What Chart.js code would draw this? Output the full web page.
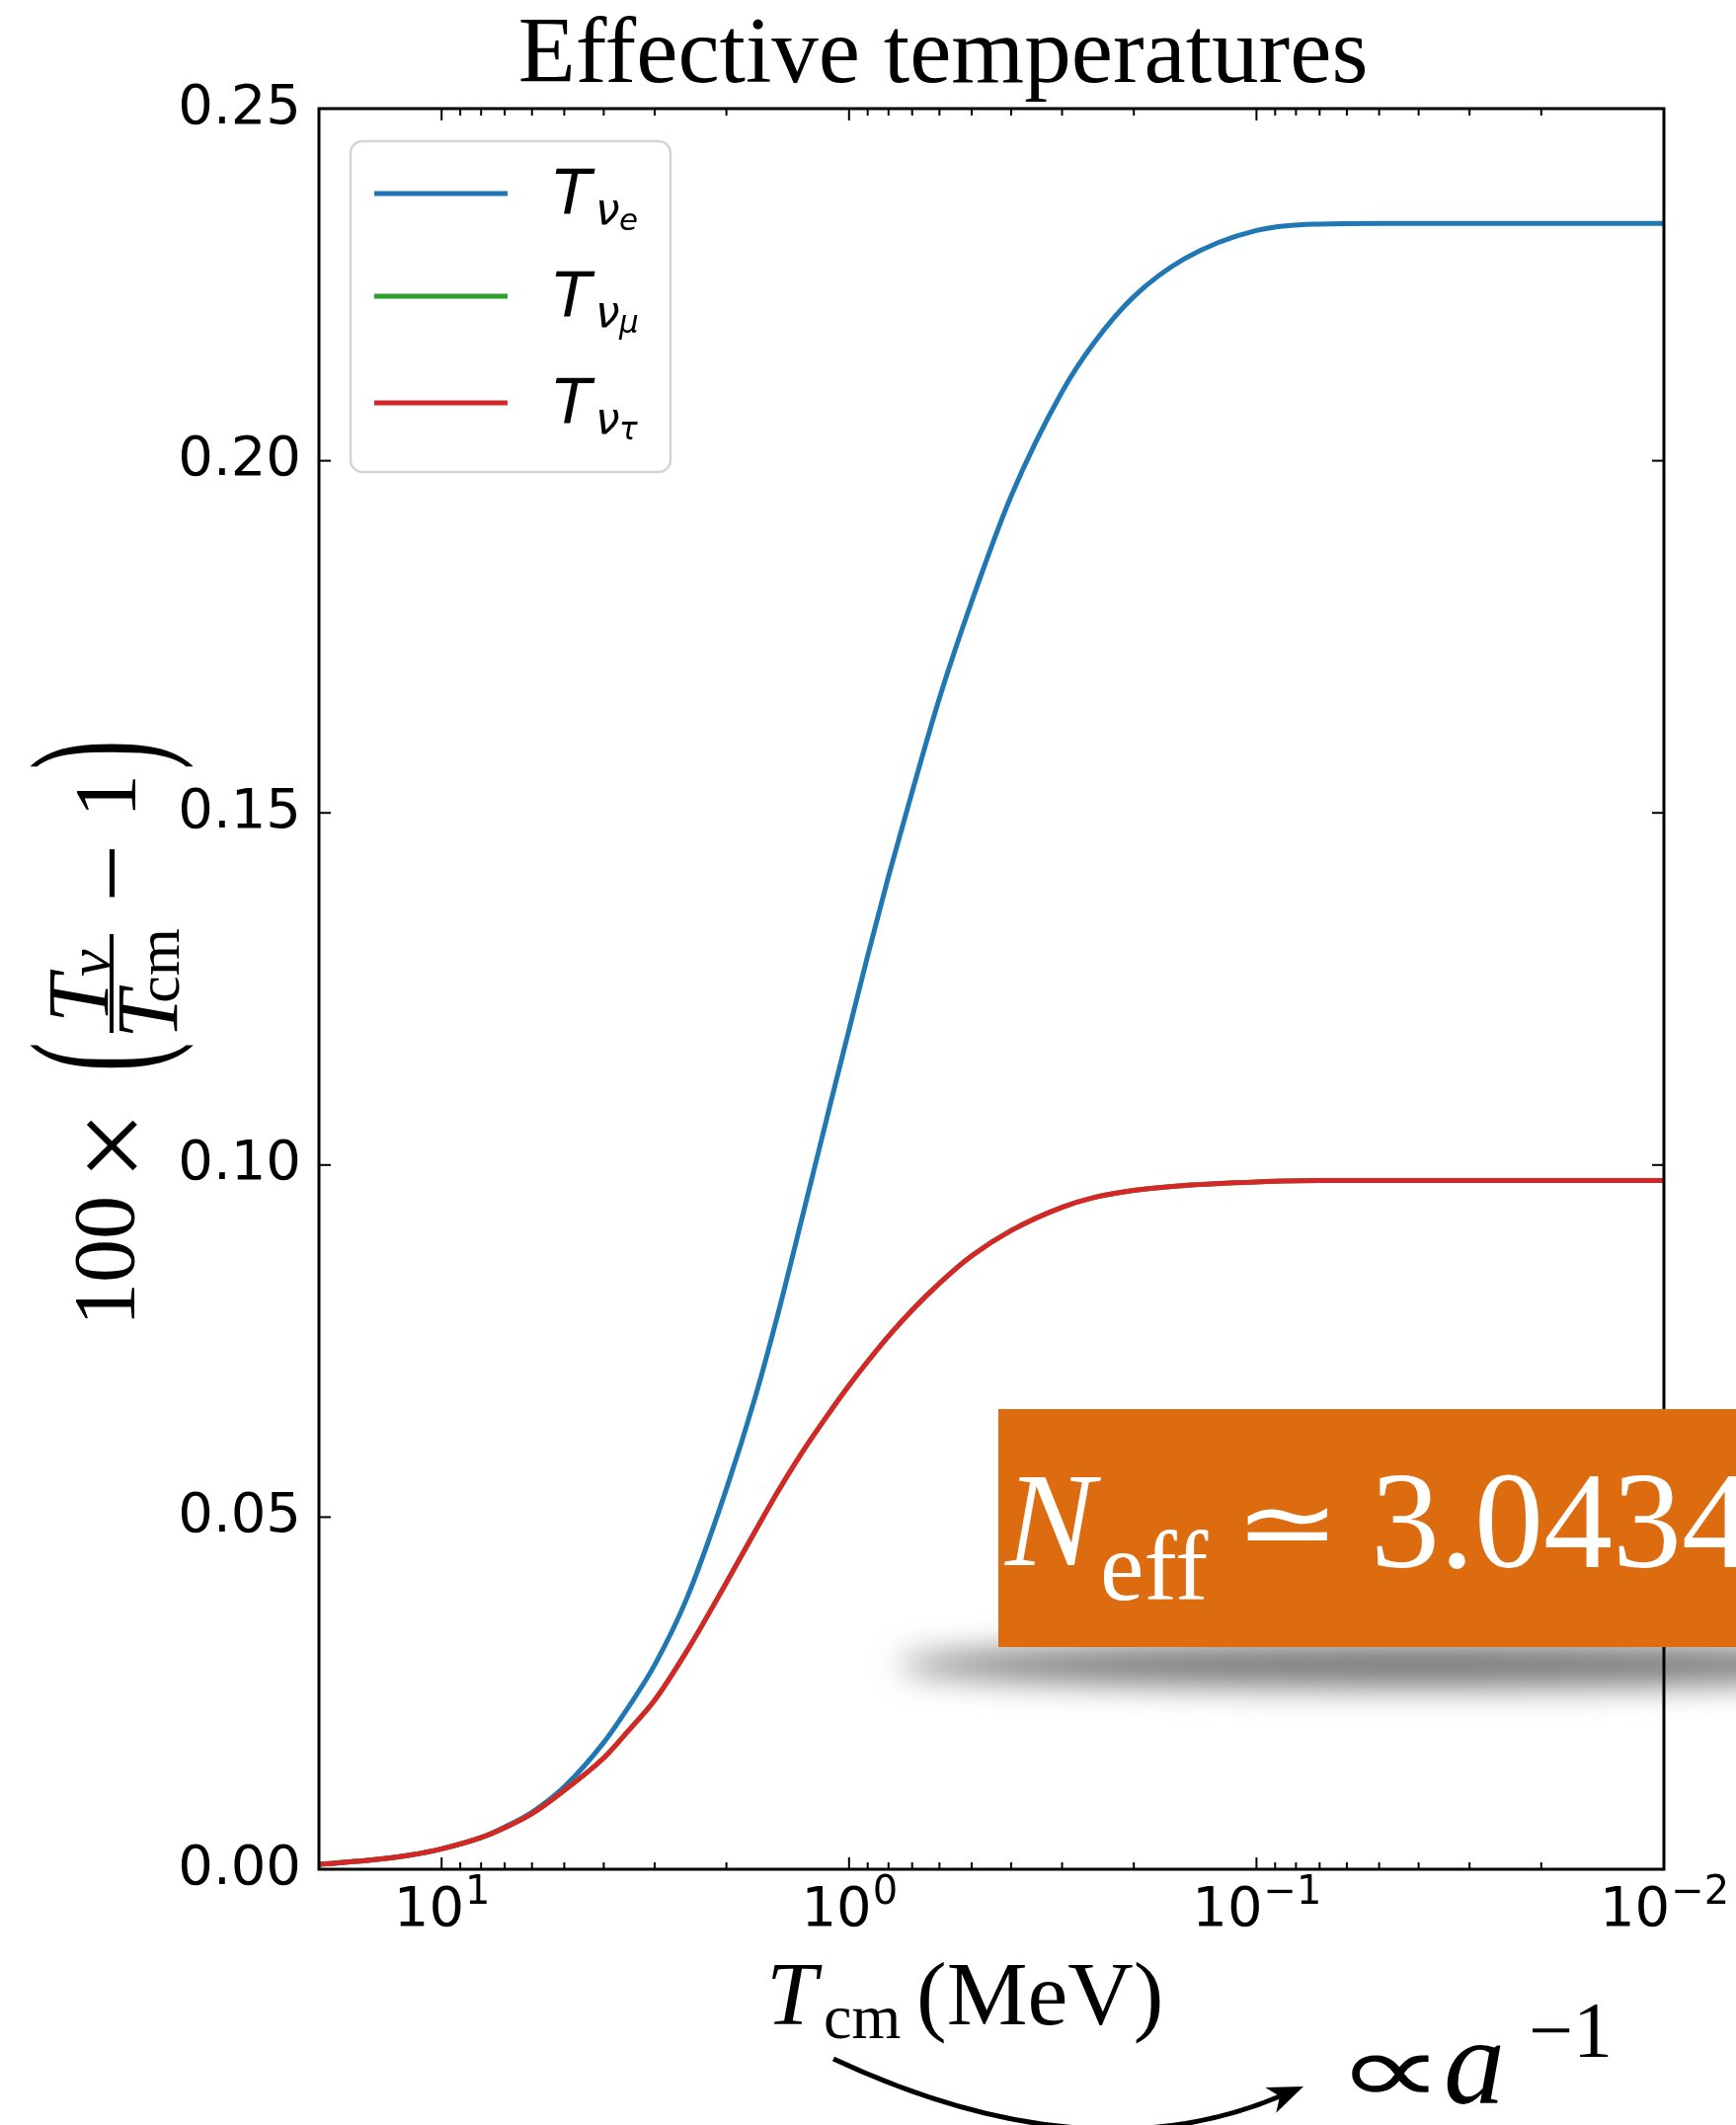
<!DOCTYPE html>
<html>
<head>
<meta charset="utf-8">
<script src="https://cdn.jsdelivr.net/npm/chart.js@4.4.0/dist/chart.umd.min.js"></script>
<style>
  html, body { margin: 0; padding: 0; background: #fff; }
</style>
</head>
<body>
<canvas id="chartTemp" width="1758" height="2152"></canvas>
<script>
// T_cm in MeV (x axis, log, reversed)
const tcm = [20, 15, 12, 10, 8, 7, 6, 5, 4, 3.5, 3, 2.5, 2, 1.7, 1.5, 1.3, 1.1, 1.0, 0.9, 0.8,
  0.7, 0.6, 0.5, 0.4, 0.3, 0.25, 0.2, 0.15, 0.1, 0.07, 0.05, 0.03, 0.02, 0.01];
// 100 x (T_nu / T_cm - 1)
const nuE = [0.0007, 0.0013, 0.0020, 0.0029, 0.0045, 0.0060, 0.0081, 0.0117, 0.0180, 0.0228,
  0.0290, 0.0385, 0.0540, 0.0670, 0.0785, 0.0928, 0.1097, 0.1192, 0.1297, 0.1410,
  0.1530, 0.1663, 0.1800, 0.1950, 0.2098, 0.2168, 0.2233, 0.2287, 0.2327, 0.2336,
  0.2337, 0.2337, 0.2337, 0.2337];
const nuMu = [0.0007, 0.0013, 0.0020, 0.0029, 0.0045, 0.0059, 0.0079, 0.0112, 0.0158, 0.0195,
  0.0240, 0.0310, 0.0407, 0.0480, 0.0535, 0.0593, 0.0654, 0.0687, 0.0721, 0.0757,
  0.0794, 0.0832, 0.0871, 0.0907, 0.0940, 0.0954, 0.0964, 0.0971, 0.0976, 0.0978,
  0.0978, 0.0978, 0.0978, 0.0978];
const nuTau = [0.0007, 0.0013, 0.0020, 0.0029, 0.0045, 0.0059, 0.0079, 0.0112, 0.0158, 0.0195,
  0.0240, 0.0310, 0.0407, 0.0480, 0.0535, 0.0593, 0.0654, 0.0687, 0.0721, 0.0757,
  0.0794, 0.0832, 0.0871, 0.0907, 0.0940, 0.0954, 0.0964, 0.0971, 0.0976, 0.0978,
  0.0978, 0.0978, 0.0978, 0.0978];

const yTicks = [0, 0.05, 0.10, 0.15, 0.20, 0.25];
const xMajor = [10, 1, 0.1, 0.01];
const xExp = ['1', '0', '\u22121', '\u22122'];
const xMinor = [9, 8, 7, 6, 5, 4, 3, 2, 0.9, 0.8, 0.7, 0.6, 0.5, 0.4, 0.3, 0.2,
  0.09, 0.08, 0.07, 0.06, 0.05, 0.04, 0.03, 0.02];
const legendSub = ['e', '\u03bc', '\u03c4'];

const colors = ['#1f77b4', '#2ca02c', '#d62728'];

function pts(arr) {
  return tcm.map((t, i) => ({ x: t, y: arr[i] }));
}

function line(ctx, x1, y1, x2, y2) {
  ctx.beginPath();
  ctx.moveTo(x1, y1);
  ctx.lineTo(x2, y2);
  ctx.stroke();
}

// rotated (bottom-to-top) text, centred on its ink box at (cx, cy)
function rotText(ctx, str, font, cx, cy, inkHeight) {
  ctx.save();
  ctx.font = font;
  ctx.translate(cx, cy);
  ctx.rotate(-Math.PI / 2);
  const m = ctx.measureText(str);
  if (inkHeight) {
    const h = m.actualBoundingBoxAscent + m.actualBoundingBoxDescent;
    ctx.scale(1, inkHeight / h);
  }
  ctx.textAlign = 'left';
  ctx.textBaseline = 'alphabetic';
  const x0 = -(m.actualBoundingBoxRight - m.actualBoundingBoxLeft) / 2;
  const y0 = (m.actualBoundingBoxAscent - m.actualBoundingBoxDescent) / 2;
  ctx.fillText(str, x0, y0);
  ctx.restore();
}

// upright text with its ink box starting at x and stretched to an ink width
function wideText(ctx, str, font, x, baseline, inkWidth) {
  ctx.save();
  ctx.font = font;
  const m = ctx.measureText(str);
  const w = m.actualBoundingBoxRight + m.actualBoundingBoxLeft;
  ctx.translate(x, baseline);
  ctx.scale(inkWidth / w, 1);
  ctx.textAlign = 'left';
  ctx.fillText(str, m.actualBoundingBoxLeft, 0);
  ctx.restore();
}

const overlay = {
  id: 'overlay',
  beforeDraw(chart) {
    const ctx = chart.ctx;
    ctx.save();
    ctx.fillStyle = '#fff';
    ctx.fillRect(0, 0, chart.width, chart.height);
    // soft shadow under the N_eff badge
    ctx.filter = 'blur(16px)';
    ctx.fillStyle = 'rgba(90,90,90,0.85)';
    ctx.beginPath();
    ctx.ellipse(1440, 1686, 530, 22, 0, 0, Math.PI * 2);
    ctx.fill();
    ctx.restore();
  },
  afterDatasetsDraw(chart) {
    const ctx = chart.ctx;
    const { left, right, top, bottom } = chart.chartArea;
    const xs = chart.scales.x, ys = chart.scales.y;
    ctx.save();
    ctx.strokeStyle = '#000';
    ctx.lineWidth = 2;
    xMajor.forEach(v => {
      const px = xs.getPixelForValue(v);
      line(ctx, px, bottom, px, bottom - 12);
      line(ctx, px, top, px, top + 12);
    });
    xMinor.forEach(v => {
      const px = xs.getPixelForValue(v);
      line(ctx, px, bottom, px, bottom - 7);
      line(ctx, px, top, px, top + 7);
    });
    yTicks.forEach(v => {
      const py = ys.getPixelForValue(v);
      line(ctx, left, py, left + 12, py);
      line(ctx, right, py, right - 12, py);
    });
    ctx.lineWidth = 3;
    ctx.strokeRect(left, top, right - left, bottom - top);

    // x tick labels 10^k
    ctx.fillStyle = '#000';
    ctx.textAlign = 'left';
    ctx.textBaseline = 'alphabetic';
    xMajor.forEach((v, i) => {
      const px = xs.getPixelForValue(v);
      ctx.font = '56px "DejaVu Sans"';
      const wb = ctx.measureText('10').width;
      ctx.font = '40px "DejaVu Sans"';
      const we = ctx.measureText(xExp[i]).width;
      const x0 = px - (wb + we) / 2;
      ctx.font = '56px "DejaVu Sans"';
      ctx.fillText('10', x0, 1950);
      ctx.font = '40px "DejaVu Sans"';
      ctx.fillText(xExp[i], x0 + wb + 1, 1928);
    });
    ctx.restore();
  },
  afterDraw(chart) {
    const ctx = chart.ctx;
    ctx.save();
    ctx.fillStyle = '#000';
    ctx.textBaseline = 'alphabetic';

    // title
    ctx.textAlign = 'center';
    ctx.font = '95px "Liberation Serif"';
    ctx.fillText('Effective temperatures', 955, 83);

    // legend
    ctx.beginPath();
    ctx.roundRect(355, 143, 324, 335, 12);
    ctx.fillStyle = 'rgba(255,255,255,0.8)';
    ctx.fill();
    ctx.strokeStyle = '#d4d4d4';
    ctx.lineWidth = 2.5;
    ctx.stroke();
    const rows = [196, 300, 408];
    ctx.textAlign = 'left';
    chart.data.datasets.forEach((ds, i) => {
      const y = rows[i];
      ctx.strokeStyle = ds.borderColor;
      ctx.lineWidth = 5;
      line(ctx, 379, y, 514, y);
      ctx.fillStyle = '#000';
      ctx.font = 'italic 63px "DejaVu Sans"';
      ctx.fillText('T', 560, y + 19.5);
      ctx.font = 'italic 44px "DejaVu Sans"';
      ctx.fillText('\u03bd', 603, y + 31);
      ctx.font = 'italic 31px "DejaVu Sans"';
      ctx.fillText(legendSub[i], 627, y + 37);
    });

    // x axis label: T_cm (MeV)
    ctx.fillStyle = '#000';
    ctx.font = 'italic 92px "Liberation Serif"';
    ctx.fillText('T', 776, 2050);
    ctx.font = '64px "Liberation Serif"';
    ctx.fillText('cm', 834, 2064);
    ctx.font = '92px "Liberation Serif"';
    ctx.fillText('(MeV)', 928, 2050);

    // y axis label: 100 x (T_nu / T_cm - 1)
    rotText(ctx, '100', '88px "Liberation Serif"', 106, 1275);
    rotText(ctx, '\u00d7', '124px "Liberation Serif"', 113, 1160);
    rotText(ctx, '(', '88px "Liberation Serif"', 113, 1070, 167);
    rotText(ctx, 'T', 'italic 88px "Liberation Serif"', 80, 1006);
    rotText(ctx, '\u03bd', 'italic 62px "Liberation Serif"', 97, 975);
    ctx.fillRect(111, 946, 4, 100);
    rotText(ctx, 'T', 'italic 88px "Liberation Serif"', 150, 1022);
    rotText(ctx, 'cm', '62px "Liberation Serif"', 167, 977);
    rotText(ctx, '\u2212', '104px "Liberation Serif"', 113, 884);
    rotText(ctx, '1', '88px "Liberation Serif"', 107, 805);
    rotText(ctx, ')', '88px "Liberation Serif"', 113, 765, 167);

    // N_eff badge
    ctx.fillStyle = '#dd6b10';
    ctx.fillRect(1011, 1427, 760, 241);
    ctx.fillStyle = '#fff';
    ctx.font = 'italic 136px "Liberation Serif"';
    ctx.fillText('N', 1018, 1585);
    ctx.font = '100px "Liberation Serif"';
    ctx.fillText('eff', 1114, 1620);
    wideText(ctx, '\u2243', '100px "DejaVu Sans"', 1263, 1577, 82);
    ctx.font = '140px "Liberation Serif"';
    ctx.fillText('3.0434', 1388, 1587);

    // arrow and a^-1
    ctx.strokeStyle = '#000';
    ctx.lineWidth = 5;
    ctx.beginPath();
    ctx.moveTo(844, 2085);
    ctx.quadraticCurveTo(1101, 2205, 1296, 2123);
    ctx.stroke();
    const ang = Math.atan2(2123 - 2205, 1296 - 1101);
    const tipX = 1320, tipY = 2113;
    ctx.fillStyle = '#000';
    ctx.beginPath();
    ctx.moveTo(tipX, tipY);
    ctx.lineTo(tipX - 36 * Math.cos(ang) + 14 * Math.sin(ang), tipY - 36 * Math.sin(ang) - 14 * Math.cos(ang));
    ctx.lineTo(tipX - 26 * Math.cos(ang), tipY - 26 * Math.sin(ang));
    ctx.lineTo(tipX - 36 * Math.cos(ang) - 14 * Math.sin(ang), tipY - 36 * Math.sin(ang) + 14 * Math.cos(ang));
    ctx.closePath();
    ctx.fill();
    wideText(ctx, '\u221d', '100px "DejaVu Sans"', 1368, 2130, 79);
    ctx.font = 'italic 124px "Liberation Serif"';
    ctx.fillText('a', 1462, 2130);
    ctx.font = '80px "Liberation Serif"';
    ctx.fillText('\u22121', 1548, 2083);
    ctx.restore();
  }
};

new Chart('chartTemp', {
  type: 'line',
  data: {
    datasets: [
      { label: 'T_\u03bde', data: pts(nuE), borderColor: colors[0], borderWidth: 5, pointRadius: 0,
        cubicInterpolationMode: 'monotone', order: 2 },
      { label: 'T_\u03bd\u03bc', data: pts(nuMu), borderColor: colors[1], borderWidth: 5, pointRadius: 0,
        cubicInterpolationMode: 'monotone', order: 1 },
      { label: 'T_\u03bd\u03c4', data: pts(nuTau), borderColor: colors[2], borderWidth: 5, pointRadius: 0,
        cubicInterpolationMode: 'monotone', order: 0 }
    ]
  },
  options: {
    responsive: false,
    animation: false,
    devicePixelRatio: 1,
    layout: { padding: { left: 123, top: 110, right: 73, bottom: 159 } },
    plugins: { legend: { display: false }, tooltip: { enabled: false }, title: { display: false } },
    scales: {
      x: {
        type: 'logarithmic',
        reverse: true,
        min: 0.01,
        max: 20,
        grid: { display: false, drawTicks: false },
        border: { display: false },
        ticks: { display: false },
        afterFit(s) { s.height = 100; }
      },
      y: {
        min: 0,
        max: 0.25,
        grid: { display: false, drawTicks: false },
        border: { display: false },
        afterBuildTicks(s) { s.ticks = yTicks.map(v => ({ value: v })); },
        afterFit(s) { s.width = 200; },
        ticks: {
          padding: 18,
          color: '#000',
          font: { family: 'DejaVu Sans', size: 56 },
          callback: v => v.toFixed(2)
        }
      }
    }
  },
  plugins: [overlay]
});
</script>
</body>
</html>
